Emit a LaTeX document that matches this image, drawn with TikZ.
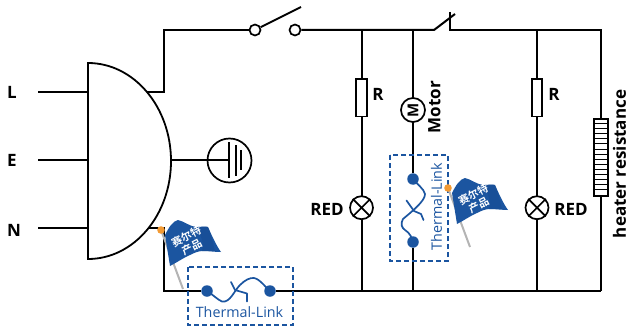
\documentclass[tikz,border=0pt]{standalone}
\usepackage{fontspec}
\setmainfont{Open Sans}
\newfontfamily\cjkfont{Noto Sans CJK SC}[BoldFont={* Bold}]
\usetikzlibrary{calc}
\definecolor{linkblue}{HTML}{1B55A0}
\definecolor{flagdark}{HTML}{15488F}
\definecolor{polegray}{HTML}{B4B4B4}
\definecolor{pinorange}{HTML}{F39A33}
\tikzset{
  x=1pt,y=-1pt,
  wire/.style={draw=black,line width=2pt,line join=miter},
  thin wire/.style={draw=black,line width=1.7pt},
  part/.style={draw=black,line width=1.7pt,fill=white,inner sep=0pt,minimum width=0pt},
  resistor/.style={part,rectangle,minimum width=10.5pt,minimum height=37.5pt},
  lamp/.style={part,circle,minimum size=23pt},
  motor/.style={part,circle,minimum size=24pt},
  contact/.style={part,circle,minimum size=11pt},
  lbl/.style={font=\bfseries\fontsize{17}{17}\selectfont,inner sep=0pt},
  dot/.style={circle,fill=linkblue,inner sep=0pt,minimum size=11.5pt},
  dashbox/.style={draw=linkblue,line width=1.7pt,dash pattern=on 5pt off 3pt},
  linkline/.style={draw=linkblue,line width=1.7pt,line join=round,line cap=round},
  linktext/.style={text=linkblue,inner sep=0pt,font=\fontsize{14.3}{15}\selectfont},
  pics/brandflag/.style={code={
    \draw[polegray,line width=2pt] (0,0) -- (22,59);
    \fill[linkblue] (4,5) .. controls (8,-3) and (12,-9) .. (17,-10)
      .. controls (23,-9) and (29,-3) .. (36,-3)
      .. controls (40,-3) and (44,-4) .. (47,-3)
      .. controls (51,6) and (55,15) .. (60,22)
      .. controls (54,22) and (48,21) .. (42,21)
      .. controls (37,21) and (33,23) .. (29,25)
      .. controls (22,28) and (15,33) .. (9,36) -- cycle;
    \fill[flagdark,opacity=.45] (36,-3) .. controls (40,-3) and (44,-4) .. (47,-3)
      .. controls (51,6) and (52,14) .. (54,21) .. controls (48,21) and (44,21) .. (41,21)
      .. controls (43,14) and (40,5) .. (36,-3) -- cycle;
    \fill[pinorange] (0,0) circle (3.8);
    \node[text=white,rotate=27,inner sep=0pt,align=center,
      font=\cjkfont\bfseries\fontsize{10.5}{12}\selectfont] at (28,12) {赛尔特\\产品};
  }}
}
\begin{document}
\begin{tikzpicture}
\useasboundingbox (0,0) rectangle (628,326);

% junction and corner coordinates
\coordinate (Lin) at (38,92);  \coordinate (Lgate) at (88,92);
\coordinate (Ein) at (38,160); \coordinate (Egate) at (88,160);
\coordinate (Nin) at (38,228); \coordinate (Ngate) at (88,228);
\coordinate (outT) at (145,92); \coordinate (outB) at (145,228);
\coordinate (topL) at (164,30); \coordinate (botL) at (164,291);
\coordinate (topA) at (362,30); \coordinate (botA) at (362,291);
\coordinate (topB) at (413,30); \coordinate (botB) at (413,291);
\coordinate (topC) at (537,30); \coordinate (botC) at (537,291);
\coordinate (topR) at (601,30); \coordinate (botR) at (601,291);

% input lines
\draw[wire] (Lin) -- (Lgate);
\draw[wire] (Ein) -- (Egate);
\draw[wire] (Nin) -- (Ngate);

% parts
\node[contact] (swA) at (255,30) {};
\node[contact] (swB) at (295,30) {};
\coordinate (swTip) at (301,7);
\coordinate (tsA) at (434,30);
\coordinate (tsTip) at (455,14);
\coordinate (tsB) at (450,30);
\coordinate (tsTop) at (450,12);

\node[dot] (d1) at (207,291) {};
\node[dot] (d2) at (270,291) {};
\node[dot] (d3) at (413,179) {};
\node[dot] (d4) at (413,242) {};

% outer circuit
\draw[wire] (outT) -| (topL) -- (swA);
\draw[wire] (outB) -| (botL) -- (d1);
\draw[wire] (d2) -- (botA) -- (botB) -- (botC) -- (botR);
\draw[wire] (swB) -- (topA) -- (topB) -- (tsA) -- (tsTip);
\draw[wire] (tsTop) -- (tsB) -- (topC) -- (topR) -- (botR);
\draw[wire] (swA) -- (swTip);

% branch A
\draw[thin wire] (topA) -- (botA);
\node[resistor] (rA) at (361.5,97.8) {};
\node[lamp] (lA) at (361.5,207.7) {};
\draw[line width=1.7pt] (lA.north west) -- (lA.south east) (lA.north east) -- (lA.south west);
\node[lbl,anchor=center] (rAl) at (378,94) {R};
\node[lbl,anchor=center] (lAl) at (327,209) {RED};

% branch B
\draw[thin wire] (topB) -- (d3);
\draw[thin wire] (d4) -- (botB);
\node[motor] (mot) at (413,110) {};
\node[rotate=90,inner sep=0pt,font=\bfseries\fontsize{15}{15}\selectfont] (motM) at (413,110) {M};
\node[lbl,rotate=90] (motl) at (434.5,107) {Motor};

% branch C
\draw[thin wire] (topC) -- (botC);
\node[resistor] (rC) at (537,97.8) {};
\node[lamp] (lC) at (537,207.7) {};
\draw[line width=1.7pt] (lC.north west) -- (lC.south east) (lC.north east) -- (lC.south west);
\node[lbl] (rCl) at (554,94) {R};
\node[lbl] (lCl) at (571,209) {RED};

% heater
\node[part,rectangle,minimum width=14.5pt,minimum height=76.5pt] (heat) at (601,157.5) {};
\foreach \k in {1,...,14}
  \draw[line width=1pt] ($(heat.north west)+(0,\k*5.1)$) -- ($(heat.north east)+(0,\k*5.1)$);
\node[lbl,rotate=90] (heatl) at (619.5,164) {heater resistance};

% gate
\path[draw=black,line width=1.8pt,fill=white] (88,63) coordinate (gTop)
  .. controls (134,63) and (171,107) .. (171,161)
  .. controls (171,215) and (134,259) .. (88,259) coordinate (gBot) -- cycle;
\node[lbl] (Ll) at (12,92) {L};
\node[lbl] (El) at (12,160) {E};
\node[lbl] (Nl) at (14,230) {N};

% earth
\coordinate (gOut) at (171,160);
\node[part,circle,minimum size=44pt,fill=none] (earth) at (229.5,160.5) {};
\coordinate (e1) at (229,160);
\draw[wire] (gOut) -- (e1);
\draw[line width=2pt] (229,142) -- (229,178);
\draw[line width=2pt] (235.7,145) -- (235.7,176);
\draw[line width=2pt] (241,150) -- (241,170);

% thermal link, horizontal
\draw[dashbox] (188,267) rectangle (293,325);
\draw[linkline] (d1.center) .. controls (212,294) and (218,300) .. (222,301.5)
  .. controls (230,303) and (234,291) .. (240,285)
  .. controls (245,280) and (250,277.5) .. (254,278)
  .. controls (260,279) and (266,288) .. (d2.center);
\draw[linkline] (231,282) -- (235,290) -- (247,293.5) -- (247,301.5);
\node[linktext] (tl1) at (239.5,312.5) {Thermal-Link};

% thermal link, vertical
\draw[dashbox] (390,155) rectangle (448,261);
\draw[linkline] (d3.center) .. controls (417,184) and (424,189) .. (425,194)
  .. controls (425.5,201) and (410,213) .. (403,219)
  .. controls (400,224) and (402,228) .. (405,230)
  .. controls (410,233) and (412,238) .. (d4.center);
\draw[linkline] (406.5,200.5) -- (414,211) -- (421,214) -- (423.5,220);
\node[linktext,rotate=90] (tl2) at (436.5,206.5) {Thermal-Link};

% flags
\pic at (161,230) {brandflag};
\pic at (448,188) {brandflag};
\end{tikzpicture}
\end{document}
